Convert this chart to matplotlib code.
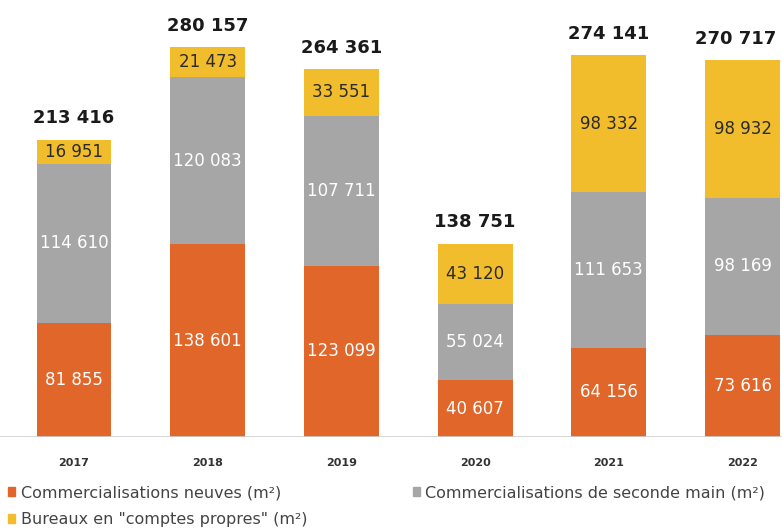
import numpy as np
import matplotlib
matplotlib.use('Agg')
import matplotlib.pyplot as plt
from matplotlib.patches import Patch

plt.rcParams['font.family'] = ['DejaVu Sans']

# Data
years = ['2017', '2018', '2019', '2020', '2021', '2022']
neuves = [81855, 138601, 123099, 40607, 64156, 73616]
seconde_main = [114610, 120083, 107711, 55024, 111653, 98169]
comptes_propres = [16951, 21473, 33551, 43120, 98332, 98932]
totals = [213416, 280157, 264361, 138751, 274141, 270717]

c_orange = '#E0662A'
c_gray = '#A6A6A6'
c_yellow = '#F1BD2C'


def fmt(v):
    return f'{v:,}'.replace(',', ' ')


fig = plt.figure(figsize=(7.82, 5.29), dpi=100)
ax = fig.add_axes([0, 0.174, 1, 0.826])

x = np.arange(len(years))
w = 0.56
neuves = np.array(neuves)
seconde_main = np.array(seconde_main)
comptes_propres = np.array(comptes_propres)

ax.bar(x, neuves, w, color=c_orange)
ax.bar(x, seconde_main, w, bottom=neuves, color=c_gray)
ax.bar(x, comptes_propres, w, bottom=neuves + seconde_main, color=c_yellow)

for i in range(len(years)):
    ax.text(x[i], neuves[i] / 2, fmt(neuves[i]), ha='center', va='center',
            color='white', fontsize=12)
    ax.text(x[i], neuves[i] + seconde_main[i] / 2, fmt(seconde_main[i]),
            ha='center', va='center', color='white', fontsize=12)
    ax.text(x[i], neuves[i] + seconde_main[i] + comptes_propres[i] / 2,
            fmt(comptes_propres[i]), ha='center', va='center',
            color='#2b2b2b', fontsize=12)
    # last total sits at the right edge, nudge it in a little
    tx = x[i] - 0.05 if i == len(years) - 1 else x[i]
    ax.text(tx, totals[i] + 9000, fmt(totals[i]), ha='center', va='bottom',
            color='#1a1a1a', fontsize=13, fontweight='bold')

ax.set_xlim(-0.553, 5.295)
ax.set_ylim(0, 314000)
ax.axhline(0, color='#d0d0d0', lw=1.2)
for s in ax.spines.values():
    s.set_visible(False)
ax.set_yticks([])
ax.set_xticks(x)
ax.set_xticklabels(years, fontsize=8, fontweight='bold', color='#333333')
ax.tick_params(axis='x', length=0, pad=15)

handles = [
    Patch(color=c_orange, label='Commercialisations neuves (m²)'),
    Patch(color=c_yellow, label='Bureaux en "comptes propres" (m²)'),
    Patch(color=c_gray, label='Commercialisations de seconde main (m²)'),
]
fig.legend(handles=handles, ncol=2, loc='upper left',
           bbox_to_anchor=(8 / 782, 1 - 485 / 529),
           frameon=False, fontsize=11.5, labelcolor='#444444',
           handlelength=0.45, handleheight=0.45, handletextpad=0.35,
           columnspacing=6.6, labelspacing=0.75, borderaxespad=0, borderpad=0)

plt.savefig('out.png', dpi=100)
plt.close()
